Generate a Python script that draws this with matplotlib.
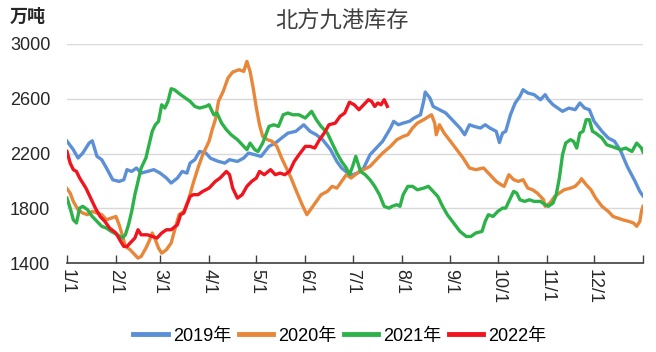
import matplotlib
matplotlib.use("Agg")
import matplotlib.pyplot as plt

plt.rcParams['font.family'] = ['Liberation Sans', 'Noto Sans CJK SC']

# day of year -> inventory (万吨)
days_2019 = [0, 4, 7, 10, 14, 16, 19, 22, 25, 29, 33, 36, 38, 41, 44, 47, 51, 55, 59, 63,
             66, 70, 73, 76, 78, 81, 84, 88, 91, 96, 100, 103, 108, 112, 115, 119, 123, 128,
             132, 136, 140, 145, 150, 154, 158, 162, 167, 171, 174, 178, 181, 184, 188, 192,
             196, 200, 205, 207, 210, 213, 217, 220, 224, 226, 227, 230, 232, 236, 240, 245,
             249, 252, 255, 258, 262, 265, 268, 272, 274, 276, 278, 281, 284, 287, 289, 292,
             296, 300, 303, 305, 308, 311, 314, 318, 322, 325, 328, 331, 334, 339, 343, 347,
             351, 355, 360, 363, 365]
vals_2019 = [2290, 2228, 2167, 2203, 2276, 2293, 2179, 2155, 2094, 2008, 1996, 2008, 2082, 2069,
             2094, 2057, 2069, 2082, 2057, 2021, 1984, 2021, 2069, 2057, 2130, 2155, 2215, 2203,
             2165, 2142, 2130, 2155, 2142, 2167, 2203, 2191, 2179, 2252, 2276, 2313, 2349, 2362,
             2410, 2362, 2337, 2301, 2228, 2142, 2094, 2057, 2045, 2057, 2094, 2191, 2240, 2289,
             2386, 2435, 2410, 2422, 2435, 2459, 2483, 2581, 2649, 2605, 2544, 2520, 2496, 2435,
             2386, 2337, 2410, 2398, 2386, 2410, 2386, 2362, 2280, 2349, 2362, 2483, 2569, 2617,
             2666, 2642, 2630, 2593, 2630, 2593, 2556, 2532, 2508, 2532, 2520, 2569, 2532, 2520,
             2435, 2362, 2313, 2289, 2215, 2106, 1996, 1923, 1890]

days_2020 = [0, 2, 4, 7, 10, 13, 16, 19, 22, 25, 28, 31, 33, 35, 37, 40, 43, 45, 47, 50,
             52, 54, 56, 58, 60, 63, 66, 68, 71, 74, 77, 80, 83, 86, 90, 92, 94, 96, 99, 102,
             105, 109, 112, 114, 116, 118, 120, 122, 124, 127, 130, 133, 136, 139, 142, 145,
             149, 152, 155, 158, 161, 165, 168, 171, 174, 177, 180, 184, 188, 192, 196, 200,
             205, 209, 213, 216, 219, 222, 226, 231, 233, 234, 236, 239, 243, 247, 251, 255,
             259, 264, 268, 272, 275, 277, 280, 283, 286, 289, 292, 295, 298, 302, 303, 306,
             309, 312, 315, 319, 322, 325, 326, 329, 332, 335, 339, 343, 346, 349, 352, 356,
             359, 361, 363, 364, 365]
vals_2020 = [1943, 1911, 1850, 1789, 1765, 1753, 1777, 1765, 1753, 1716, 1728, 1740, 1680, 1606,
             1521, 1497, 1460, 1436, 1448, 1509, 1558, 1619, 1570, 1509, 1472, 1497, 1546, 1631,
             1753, 1777, 1862, 1984, 2094, 2191, 2289, 2374, 2447, 2581, 2654, 2751, 2795, 2812,
             2800, 2873, 2800, 2678, 2532, 2410, 2325, 2301, 2289, 2252, 2167, 2094, 2021, 1935,
             1826, 1753, 1801, 1850, 1899, 1923, 1960, 1947, 1996, 2045, 2021, 2057, 2082, 2106,
             2155, 2203, 2252, 2301, 2325, 2337, 2386, 2422, 2447, 2483, 2422, 2337, 2410, 2349,
             2289, 2228, 2167, 2094, 2082, 2094, 2045, 1996, 1972, 1960, 2045, 2009, 1996, 2009,
             1947, 1935, 1911, 1862, 1814, 1838, 1886, 1911, 1935, 1947, 1960, 1996, 2016, 1972,
             1935, 1874, 1814, 1777, 1740, 1728, 1716, 1704, 1692, 1668, 1704, 1777, 1814]

days_2021 = [0, 2, 4, 6, 8, 10, 13, 16, 19, 22, 25, 28, 32, 35, 37, 39, 41, 43, 45, 47,
             50, 52, 54, 56, 58, 60, 62, 64, 66, 68, 72, 75, 78, 81, 84, 88, 90, 93, 95, 98,
             101, 104, 108, 111, 114, 116, 119, 121, 124, 128, 131, 134, 137, 140, 143, 147,
             151, 155, 158, 161, 165, 168, 171, 174, 177, 179, 181, 183, 186, 189, 192, 195,
             198, 201, 204, 206, 209, 211, 213, 216, 219, 222, 226, 229, 232, 235, 238, 241,
             245, 249, 253, 256, 259, 263, 265, 267, 270, 273, 276, 278, 281, 283, 285, 287,
             290, 293, 296, 300, 303, 305, 308, 310, 312, 314, 316, 319, 321, 323, 325, 327,
             329, 331, 333, 335, 339, 342, 345, 348, 351, 354, 358, 361, 364, 365]
vals_2021 = [1874, 1801, 1716, 1692, 1801, 1814, 1789, 1740, 1704, 1668, 1655, 1631, 1606, 1582,
             1606, 1680, 1777, 1899, 1996, 2094, 2167, 2264, 2362, 2410, 2435, 2556, 2532, 2581,
             2673, 2666, 2630, 2605, 2581, 2544, 2532, 2544, 2556, 2483, 2496, 2422, 2374, 2337,
             2301, 2264, 2228, 2276, 2228, 2215, 2276, 2398, 2410, 2398, 2483, 2496, 2483, 2483,
             2459, 2508, 2447, 2398, 2349, 2276, 2203, 2142, 2094, 2045, 2106, 2179, 2069, 2045,
             2008, 1960, 1899, 1814, 1801, 1814, 1826, 1814, 1899, 1960, 1960, 1935, 1947, 1960,
             1923, 1886, 1814, 1753, 1692, 1631, 1594, 1594, 1619, 1631, 1704, 1753, 1740, 1777,
             1801, 1801, 1874, 1923, 1911, 1862, 1850, 1862, 1850, 1850, 1826, 1814, 1838, 1899,
             2021, 2191, 2276, 2301, 2289, 2240, 2349, 2362, 2447, 2447, 2362, 2349, 2313, 2264,
             2252, 2240, 2228, 2240, 2215, 2276, 2240, 2211]

days_2022 = [0, 2, 4, 6, 8, 12, 15, 18, 21, 24, 27, 31, 34, 36, 38, 40, 43, 45, 47, 51,
             54, 57, 60, 63, 66, 70, 72, 74, 76, 78, 80, 83, 86, 90, 94, 97, 99, 101, 103, 105,
             108, 111, 114, 117, 120, 122, 125, 129, 132, 135, 138, 141, 144, 147, 151, 154,
             157, 160, 163, 166, 170, 173, 176, 179, 182, 185, 188, 191, 193, 195, 197, 199,
             201, 203]
vals_2022 = [2215, 2130, 2082, 2069, 2021, 1947, 1874, 1801, 1740, 1704, 1655, 1619, 1558, 1521,
             1521, 1546, 1582, 1643, 1606, 1606, 1594, 1582, 1619, 1643, 1643, 1680, 1753, 1765,
             1826, 1886, 1899, 1899, 1923, 1947, 1996, 2021, 2045, 2069, 2045, 1947, 1874, 1899,
             1960, 1996, 2021, 2069, 2045, 2082, 2045, 2057, 2045, 2069, 2142, 2191, 2252, 2252,
             2240, 2301, 2349, 2410, 2422, 2471, 2496, 2575, 2556, 2520, 2556, 2593, 2581, 2544,
             2569, 2556, 2593, 2544]

month_days = [0, 31, 59, 90, 120, 151, 181, 212, 243, 273, 304, 334, 365]
month_labels = ['1/1', '2/1', '3/1', '4/1', '5/1', '6/1', '7/1', '8/1', '9/1', '10/1', '11/1', '12/1', '']

series = [
    (days_2019, vals_2019, '2019年', '#5B8FD6'),
    (days_2020, vals_2020, '2020年', '#E8873A'),
    (days_2021, vals_2021, '2021年', '#2DB24A'),
    (days_2022, vals_2022, '2022年', '#F0141E'),
]

fig = plt.figure(figsize=(6.56, 3.52), dpi=100)
ax = fig.add_axes([67/656, 1-263/352, 576/656, 219/352])

for d, v, name, c in series:
    ax.plot(d, v, color=c, lw=2.4, label=name, solid_joinstyle='round')

ax.set_xlim(0, 365)
ax.set_ylim(1400, 3000)
ax.set_yticks([1400, 1800, 2200, 2600, 3000])
ax.set_xticks(month_days)
ax.set_xticklabels(month_labels, rotation=-90, fontsize=13, color='#262626')
ax.tick_params(axis='x', direction='in', length=6, width=1, color='#404040', pad=4)
ax.tick_params(axis='y', length=0, labelsize=13, labelcolor='#262626', pad=12)
ax.grid(axis='y', color='#d9d9d9', lw=1)
ax.set_axisbelow(True)
for s in ['left', 'right', 'top']:
    ax.spines[s].set_visible(False)
ax.spines['bottom'].set_color('#404040')
ax.spines['bottom'].set_linewidth(1.2)

fig.text(342/656, 1-22/352, '北方九港库存', ha='center', va='center', fontsize=16, color='#404040')
fig.text(10/656, 1-17/352, '万吨', ha='left', va='center', fontsize=13, fontweight='bold', color='#262626')

leg = ax.legend(loc='center', bbox_to_anchor=(340/656, 1-336/352), bbox_transform=fig.transFigure,
                ncol=4, frameon=False, fontsize=13, handlelength=1.9, handletextpad=0.3,
                columnspacing=0.4)
for line in leg.get_lines():
    line.set_linewidth(3.5)

fig.savefig('out.png', dpi=100)
